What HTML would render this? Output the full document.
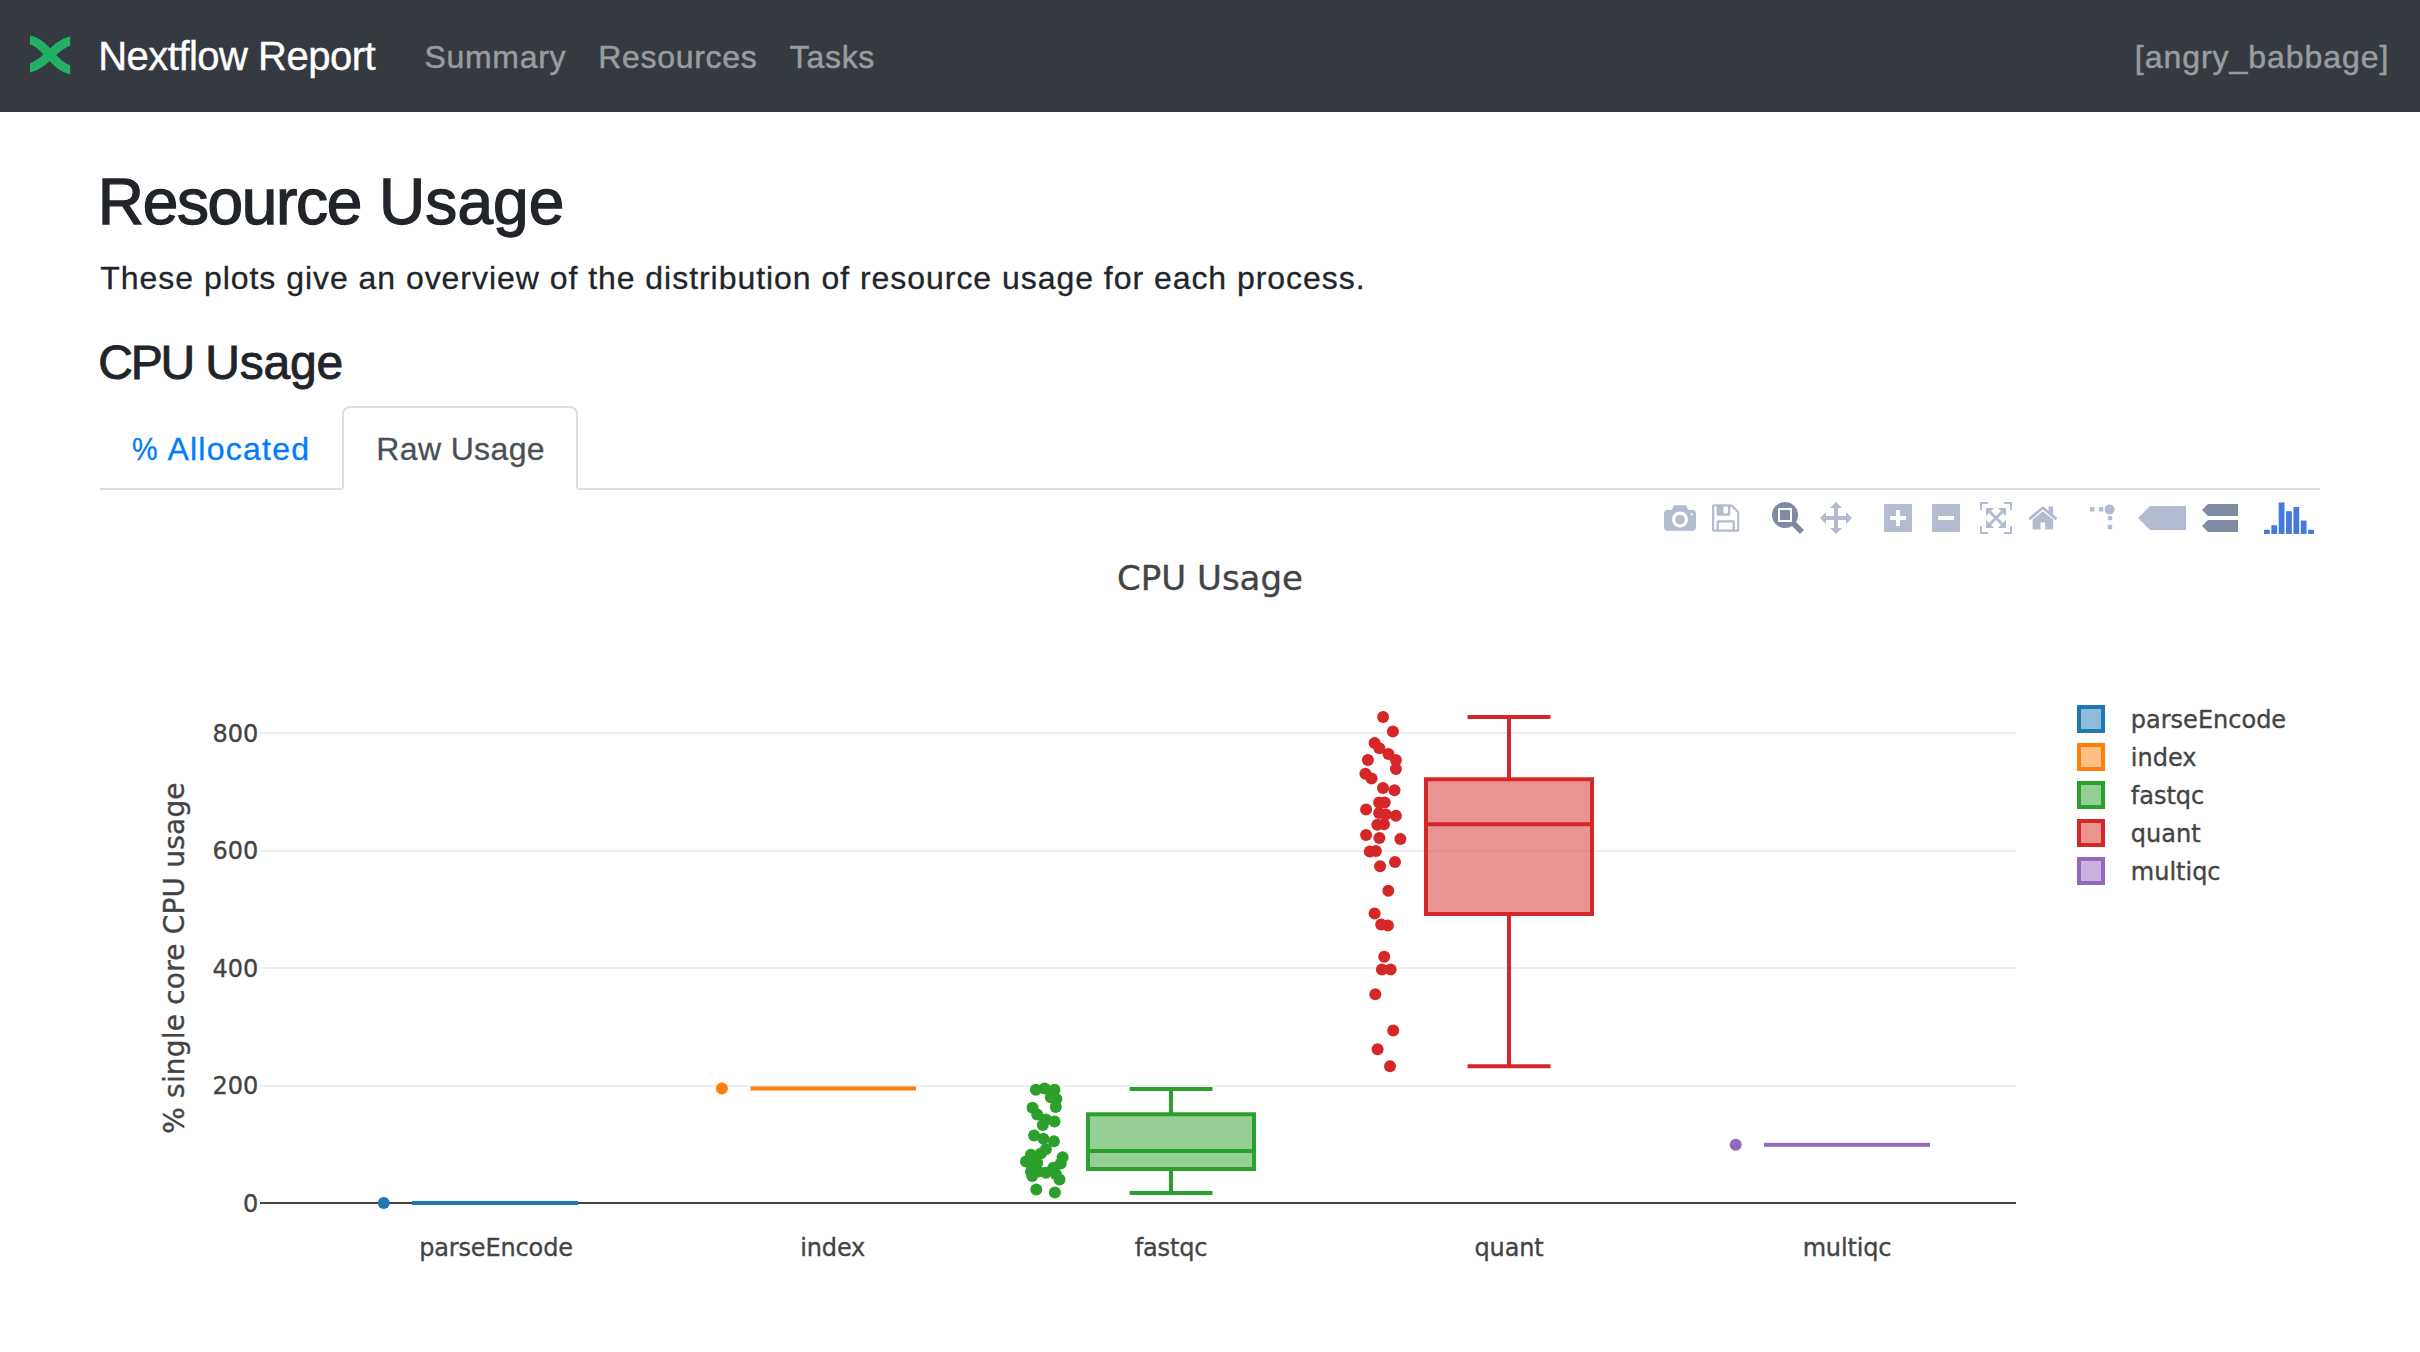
<!DOCTYPE html>
<html lang="en"><head><meta charset="utf-8"><title>Nextflow Report</title>
<style>
html,body{margin:0;padding:0;background:#fff;}
body{width:2420px;height:1352px;position:relative;overflow:hidden;font-family:"Liberation Sans",sans-serif;color:#212529;}
.nav{position:absolute;left:0;top:0;width:2420px;height:112px;background:#343a40;}
.abs{position:absolute;white-space:nowrap;line-height:1;}
.brand{left:98.2px;top:36.3px;font-size:40px;color:#fff;letter-spacing:-0.51px;-webkit-text-stroke:0.4px #fff;}
.nl{font-size:32px;color:#999c9f;top:40.9px;letter-spacing:0.69px;-webkit-text-stroke:0.5px #999c9f;}
h1.abs{margin:0;left:97.8px;top:170.1px;letter-spacing:-0.81px;font-size:64px;font-weight:normal;-webkit-text-stroke:1.3px #212529;}
p.abs{margin:0;left:100.3px;top:262.3px;font-size:32px;letter-spacing:0.96px;-webkit-text-stroke:0.3px #212529;}
h2.abs{margin:0;left:98.3px;top:339.4px;letter-spacing:-1.04px;font-size:48px;font-weight:normal;-webkit-text-stroke:0.9px #212529;}
.tabline{position:absolute;left:100px;top:488px;width:2220px;height:2px;background:#ddd;}
.tab{position:absolute;left:342px;top:406px;width:232px;height:80px;border:2px solid #ddd;border-bottom:2px solid #fff;border-radius:8px 8px 0 0;background:#fff;}
.t1{left:132.3px;top:432.9px;font-size:32px;color:#007bff;letter-spacing:1.25px;-webkit-text-stroke:0.3px #007bff;}
.t2{left:376.3px;top:432.9px;font-size:32px;color:#495057;letter-spacing:0.36px;-webkit-text-stroke:0.3px #495057;}
span.pc{display:inline-block;transform:scaleX(0.9);transform-origin:0 50%;margin-right:-3px;}
svg.plot{position:absolute;left:0;top:0;}
svg text{font-family:"DejaVu Sans","Liberation Sans",sans-serif;fill:#444;stroke:#444;stroke-width:0.35px;}
.t24{font-size:24px;} .t28{font-size:28px;} .t34{font-size:34px;}
</style></head><body>
<div class="nav"></div>
<svg class="abs" style="left:0;top:0" width="112" height="112" viewBox="0 0 112 112">
<clipPath id="lc"><rect x="30" y="30" width="40.2" height="50"/></clipPath>
<g clip-path="url(#lc)" fill="none" stroke="#21b065" stroke-width="8.9">
<path d="M24.7,39 L30,40 C46,43 54,66.6 70,69.6 L75.3,70.6"/>
<path d="M24.7,69.3 L30,68 C46,64 54,45 70,41.1 L75.3,39.8"/>
</g></svg>
<span class="abs brand" id="brand">Nextflow Report</span>
<span class="abs nl" id="n1" style="left:424.5px">Summary</span>
<span class="abs nl" id="n2" style="left:598.3px">Resources</span>
<span class="abs nl" id="n3" style="left:789.8px">Tasks</span>
<span class="abs nl" id="n4" style="left:2134.8px;letter-spacing:0.96px">[angry_babbage]</span>
<h1 class="abs" id="h1"><span style="letter-spacing:-1.34px">Resource</span> <span style="letter-spacing:0.1px;margin-left:1px">Usage</span></h1>
<p class="abs" id="para">These plots give an overview of the distribution of resource usage for each process.</p>
<h2 class="abs" id="h2"><span style="letter-spacing:-2.2px">CPU</span> <span style="letter-spacing:-0.24px">Usage</span></h2>
<div class="tabline"></div><div class="tab"></div>
<span class="abs t1" id="t1"><span class="pc">%</span> Allocated</span>
<span class="abs t2" id="t2">Raw Usage</span>
<svg class="plot" width="2420" height="1352" viewBox="0 0 2420 1352">
<svg x="1664" y="502" width="32.00" height="32" viewBox="0 0 1000 1000"><path d="m500 450c-83 0-150-67-150-150 0-83 67-150 150-150 83 0 150 67 150 150 0 83-67 150-150 150z m400 150h-120c-16 0-34 13-39 29l-31 93c-6 15-23 28-40 28h-340c-16 0-34-13-39-28l-31-94c-6-15-23-28-40-28h-120c-55 0-100-45-100-100v-450c0-55 45-100 100-100h800c55 0 100 45 100 100v450c0 55-45 100-100 100z m-400-550c-138 0-250 112-250 250 0 138 112 250 250 250 138 0 250-112 250-250 0-138-112-250-250-250z m365 380c-19 0-35 16-35 35 0 19 16 35 35 35 19 0 35-16 35-35 0-19-16-35-35-35z" transform="matrix(1 0 0 -1 0 850)" fill="rgba(0,31,95,0.3)"/></svg><svg x="1712" y="502" width="27.43" height="32" viewBox="0 0 857.1 1000"><path d="m214-7h429v214h-429v-214z m500 0h72v500q0 8-6 21t-11 20l-157 156q-5 6-19 12t-22 5v-232q0-22-15-38t-38-16h-322q-22 0-37 16t-16 38v232h-72v-714h72v232q0 22 16 38t37 16h465q22 0 38-16t15-38v-232z m-214 518v178q0 8-5 13t-13 5h-107q-7 0-13-5t-5-13v-178q0-8 5-13t13-5h107q7 0 13 5t5 13z m357-18v-518q0-22-15-38t-38-16h-750q-23 0-38 16t-16 38v750q0 22 16 38t38 16h517q23 0 50-12t42-26l156-157q16-15 27-42t11-49z" transform="matrix(1 0 0 -1 0 850)" fill="rgba(0,31,95,0.3)"/></svg><svg x="1772" y="502" width="32.00" height="32" viewBox="0 0 1000 1000"><path d="m1000-25l-250 251c40 63 63 138 63 218 0 224-182 406-407 406-224 0-406-182-406-406s183-406 407-406c80 0 155 22 218 62l250-250 125 125z m-812 250l0 438 437 0 0-438-437 0z m62 375l313 0 0-312-313 0 0 312z" transform="matrix(1 0 0 -1 0 850)" fill="rgba(0,22,72,0.5)"/></svg><svg x="1820" y="502" width="32.00" height="32" viewBox="0 0 1000 1000"><path d="m1000 350l-187 188 0-125-250 0 0 250 125 0-188 187-187-187 125 0 0-250-250 0 0 125-188-188 186-187 0 125 252 0 0-250-125 0 187-188 188 188-125 0 0 250 250 0 0-126 187 188z" transform="matrix(1 0 0 -1 0 850)" fill="rgba(0,31,95,0.3)"/></svg><svg x="1884" y="502" width="28.00" height="32" viewBox="0 0 875 1000"><path d="m1 787l0-875 875 0 0 875-875 0z m687-500l-187 0 0-187-125 0 0 187-188 0 0 125 188 0 0 187 125 0 0-187 187 0 0-125z" transform="matrix(1 0 0 -1 0 850)" fill="rgba(0,31,95,0.3)"/></svg><svg x="1932" y="502" width="28.00" height="32" viewBox="0 0 875 1000"><path d="m0 788l0-876 875 0 0 876-875 0z m688-500l-500 0 0 125 500 0 0-125z" transform="matrix(1 0 0 -1 0 850)" fill="rgba(0,31,95,0.3)"/></svg><svg x="1980" y="502" width="32.00" height="32" viewBox="0 0 1000 1000"><path d="m250 850l-187 0-63 0 0-62 0-188 63 0 0 188 187 0 0 62z m688 0l-188 0 0-62 188 0 0-188 62 0 0 188 0 62-62 0z m-875-938l0 188-63 0 0-188 0-62 63 0 187 0 0 62-187 0z m875 188l0-188-188 0 0-62 188 0 62 0 0 62 0 188-62 0z m-125 188l-1 0-93-94-156 156 156 156 92-93 2 0 0 250-250 0 0-2 93-92-156-156-156 156 94 92 0 2-250 0 0-250 0 0 93 93 157-156-157-156-93 94 0 0 0-250 250 0 0 0-94 93 156 157 156-157-93-93 0 0 250 0 0 250z" transform="matrix(1 0 0 -1 0 850)" fill="rgba(0,31,95,0.3)"/></svg><svg x="2028" y="502" width="29.72" height="32" viewBox="0 0 928.6 1000"><path d="m786 296v-267q0-15-11-26t-25-10h-214v214h-143v-214h-214q-15 0-25 10t-11 26v267q0 1 0 2t0 2l321 264 321-264q1-1 1-4z m124 39l-34-41q-5-5-12-6h-2q-7 0-12 3l-386 322-386-322q-7-4-13-4-7 2-12 7l-35 41q-4 5-3 13t6 12l401 334q18 15 42 15t43-15l136-114v109q0 8 5 13t13 5h107q8 0 13-5t5-13v-227l122-102q5-5 6-12t-4-13z" transform="matrix(1 0 0 -1 0 850)" fill="rgba(0,31,95,0.3)"/></svg><svg x="2090" y="502" width="32.00" height="32" viewBox="0 0 1000 1000"><path d="M512 409c0-57-46-104-103-104-57 0-104 47-104 104 0 57 47 103 104 103 57 0 103-46 103-103z m-327-39l92 0 0 92-92 0z m-185 0l92 0 0 92-92 0z m370-186l92 0 0 93-92 0z m0-184l92 0 0 92-92 0z" transform="matrix(1.5 0 0 -1.5 0 850)" fill="rgba(0,31,95,0.3)"/></svg><svg x="2138" y="502" width="48.00" height="32" viewBox="0 0 1500 1000"><path d="m375 725l0 0-375-375 375-374 0-1 1125 0 0 750-1125 0z" transform="matrix(1 0 0 -1 0 850)" fill="rgba(0,31,95,0.3)"/></svg><svg x="2202" y="502" width="36.00" height="32" viewBox="0 0 1125 1000"><path d="m187 786l0 2-187-188 188-187 0 0 937 0 0 373-938 0z m0-499l0 1-187-188 188-188 0 0 937 0 0 376-938-1z" transform="matrix(1 0 0 -1 0 850)" fill="rgba(0,22,72,0.5)"/></svg><svg x="2264" y="502" width="49.92" height="32" viewBox="0 0 1560 1000"><path d="M0 869h180v131h-180z M230 727h180v273h-180z M460 13h180v987h-180z M690 291h180v709h-180z M920 156h180v844h-180z M1150 581h180v419h-180z M1380 869h180v131h-180z" transform="" fill="#447adb"/></svg>
<text x="1210" y="589.5" text-anchor="middle" class="t34">CPU Usage</text>
<rect x="260" y="732" width="1756" height="2" fill="#eeeeee"/><rect x="260" y="850" width="1756" height="2" fill="#eeeeee"/><rect x="260" y="967" width="1756" height="2" fill="#eeeeee"/><rect x="260" y="1085" width="1756" height="2" fill="#eeeeee"/>
<rect x="260" y="1202" width="1756" height="2" fill="#444444"/>
<text x="258.4" y="742" text-anchor="end" class="t24">800</text><text x="258.4" y="859.4" text-anchor="end" class="t24">600</text><text x="258.4" y="976.8" text-anchor="end" class="t24">400</text><text x="258.4" y="1094.2" text-anchor="end" class="t24">200</text><text x="258.4" y="1211.6" text-anchor="end" class="t24">0</text><text x="496" y="1255.5" text-anchor="middle" class="t24" style="letter-spacing:-0.15px">parseEncode</text><text x="832.7" y="1255.5" text-anchor="middle" class="t24" style="letter-spacing:-0.15px">index</text><text x="1171" y="1255.5" text-anchor="middle" class="t24" style="letter-spacing:-0.15px">fastqc</text><text x="1509" y="1255.5" text-anchor="middle" class="t24" style="letter-spacing:-0.15px">quant</text><text x="1847" y="1255.5" text-anchor="middle" class="t24" style="letter-spacing:-0.15px">multiqc</text>
<text transform="translate(184,958) rotate(-90)" text-anchor="middle" class="t28" style="letter-spacing:0.19px">% single core CPU usage</text>
<circle cx="383.8" cy="1203" r="6" fill="#1f77b4"/><rect x="412" y="1201" width="166" height="4" fill="#1f77b4"/>
<circle cx="721.9" cy="1088.5" r="6" fill="#ff7f0e"/><rect x="750.5" y="1086.5" width="165.5" height="4" fill="#ff7f0e"/>
<circle cx="1035.9" cy="1089.8" r="6" fill="#2ca02c"/><circle cx="1044.6" cy="1088.5" r="6" fill="#2ca02c"/><circle cx="1054.5" cy="1089.8" r="6" fill="#2ca02c"/><circle cx="1050.8" cy="1097.2" r="6" fill="#2ca02c"/><circle cx="1056.4" cy="1099.0" r="6" fill="#2ca02c"/><circle cx="1055.8" cy="1107.1" r="6" fill="#2ca02c"/><circle cx="1032.5" cy="1107.7" r="6" fill="#2ca02c"/><circle cx="1037.2" cy="1114.5" r="6" fill="#2ca02c"/><circle cx="1045.9" cy="1119.5" r="6" fill="#2ca02c"/><circle cx="1054.5" cy="1121.4" r="6" fill="#2ca02c"/><circle cx="1042.8" cy="1125.1" r="6" fill="#2ca02c"/><circle cx="1034.1" cy="1135.6" r="6" fill="#2ca02c"/><circle cx="1043.4" cy="1138.7" r="6" fill="#2ca02c"/><circle cx="1053.9" cy="1141.2" r="6" fill="#2ca02c"/><circle cx="1045.9" cy="1149.3" r="6" fill="#2ca02c"/><circle cx="1040.9" cy="1153.6" r="6" fill="#2ca02c"/><circle cx="1031.0" cy="1154.8" r="6" fill="#2ca02c"/><circle cx="1062.6" cy="1157.3" r="6" fill="#2ca02c"/><circle cx="1026.0" cy="1161.6" r="6" fill="#2ca02c"/><circle cx="1032.2" cy="1165.4" r="6" fill="#2ca02c"/><circle cx="1037.2" cy="1162.9" r="6" fill="#2ca02c"/><circle cx="1060.7" cy="1163.5" r="6" fill="#2ca02c"/><circle cx="1053.3" cy="1167.8" r="6" fill="#2ca02c"/><circle cx="1031.0" cy="1171.6" r="6" fill="#2ca02c"/><circle cx="1038.4" cy="1171.6" r="6" fill="#2ca02c"/><circle cx="1045.9" cy="1172.8" r="6" fill="#2ca02c"/><circle cx="1055.8" cy="1174.0" r="6" fill="#2ca02c"/><circle cx="1032.2" cy="1175.9" r="6" fill="#2ca02c"/><circle cx="1059.5" cy="1179.6" r="6" fill="#2ca02c"/><circle cx="1036.3" cy="1189.5" r="6" fill="#2ca02c"/><circle cx="1054.9" cy="1192.6" r="6" fill="#2ca02c"/>
<g stroke="#2ca02c" stroke-width="4" fill="#2ca02c" fill-opacity="0.5"><path d="M1088,1151H1254M1088,1169H1254V1114.3H1088Z M1171,1169V1193M1171,1114.3V1089M1129.5,1193H1212.5M1129.5,1089H1212.5"/></g>
<circle cx="1383.1" cy="716.9" r="6" fill="#d62728"/><circle cx="1392.9" cy="731.4" r="6" fill="#d62728"/><circle cx="1374.6" cy="743.1" r="6" fill="#d62728"/><circle cx="1379.4" cy="748.3" r="6" fill="#d62728"/><circle cx="1388.5" cy="754.1" r="6" fill="#d62728"/><circle cx="1395.9" cy="760.0" r="6" fill="#d62728"/><circle cx="1367.9" cy="760.0" r="6" fill="#d62728"/><circle cx="1395.9" cy="768.9" r="6" fill="#d62728"/><circle cx="1365.4" cy="773.7" r="6" fill="#d62728"/><circle cx="1371.6" cy="778.6" r="6" fill="#d62728"/><circle cx="1383.0" cy="787.9" r="6" fill="#d62728"/><circle cx="1394.5" cy="790.2" r="6" fill="#d62728"/><circle cx="1379.1" cy="802.4" r="6" fill="#d62728"/><circle cx="1384.7" cy="802.4" r="6" fill="#d62728"/><circle cx="1366.1" cy="809.5" r="6" fill="#d62728"/><circle cx="1379.1" cy="813.1" r="6" fill="#d62728"/><circle cx="1385.8" cy="814.5" r="6" fill="#d62728"/><circle cx="1395.9" cy="815.7" r="6" fill="#d62728"/><circle cx="1377.3" cy="824.8" r="6" fill="#d62728"/><circle cx="1384.0" cy="824.3" r="6" fill="#d62728"/><circle cx="1366.1" cy="834.9" r="6" fill="#d62728"/><circle cx="1379.4" cy="837.9" r="6" fill="#d62728"/><circle cx="1400.4" cy="839.0" r="6" fill="#d62728"/><circle cx="1369.8" cy="851.4" r="6" fill="#d62728"/><circle cx="1375.9" cy="850.9" r="6" fill="#d62728"/><circle cx="1395.0" cy="861.9" r="6" fill="#d62728"/><circle cx="1380.1" cy="866.2" r="6" fill="#d62728"/><circle cx="1388.3" cy="890.8" r="6" fill="#d62728"/><circle cx="1374.6" cy="913.6" r="6" fill="#d62728"/><circle cx="1381.2" cy="924.6" r="6" fill="#d62728"/><circle cx="1387.9" cy="925.5" r="6" fill="#d62728"/><circle cx="1384.2" cy="956.7" r="6" fill="#d62728"/><circle cx="1381.9" cy="969.4" r="6" fill="#d62728"/><circle cx="1390.6" cy="969.4" r="6" fill="#d62728"/><circle cx="1375.3" cy="994.2" r="6" fill="#d62728"/><circle cx="1393.2" cy="1030.5" r="6" fill="#d62728"/><circle cx="1377.6" cy="1049.3" r="6" fill="#d62728"/><circle cx="1390.0" cy="1066.3" r="6" fill="#d62728"/>
<g stroke="#d62728" stroke-width="4" fill="#d62728" fill-opacity="0.5"><path d="M1426,824.3H1592M1426,913.9H1592V779.2H1426Z M1509,913.9V1066.3M1509,779.2V716.9M1467.5,1066.3H1550.5M1467.5,716.9H1550.5"/></g>
<circle cx="1735.7" cy="1144.8" r="6" fill="#9467bd"/><rect x="1764" y="1142.8" width="166" height="4" fill="#9467bd"/>
<rect x="2079" y="707" width="24" height="24" fill="#1f77b4" fill-opacity="0.5" stroke="#1f77b4" stroke-width="4"/><text x="2130.8" y="727.5" class="t24">parseEncode</text><rect x="2079" y="745" width="24" height="24" fill="#ff7f0e" fill-opacity="0.5" stroke="#ff7f0e" stroke-width="4"/><text x="2130.8" y="765.5" class="t24">index</text><rect x="2079" y="783" width="24" height="24" fill="#2ca02c" fill-opacity="0.5" stroke="#2ca02c" stroke-width="4"/><text x="2130.8" y="803.5" class="t24">fastqc</text><rect x="2079" y="821" width="24" height="24" fill="#d62728" fill-opacity="0.5" stroke="#d62728" stroke-width="4"/><text x="2130.8" y="841.5" class="t24">quant</text><rect x="2079" y="859" width="24" height="24" fill="#9467bd" fill-opacity="0.5" stroke="#9467bd" stroke-width="4"/><text x="2130.8" y="879.5" class="t24">multiqc</text>
</svg>
</body></html>
